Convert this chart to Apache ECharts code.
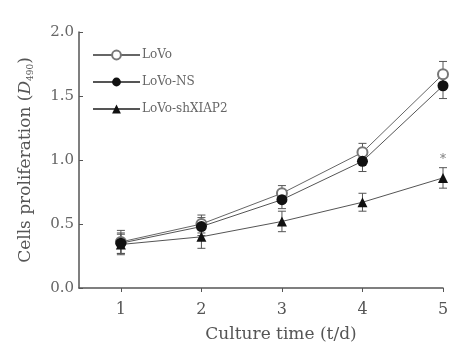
<!DOCTYPE html>
<html><head><meta charset="utf-8">
<script src="https://cdn.jsdelivr.net/npm/echarts@6/dist/echarts.min.js"></script>
<style>html,body{margin:0;padding:0;background:#fff}#c{width:451px;height:344px}</style>
</head><body><div id="c"></div>
<script>
var days = [1, 2, 3, 4, 5];
var yTicks = ['0.0', '0.5', '1.0', '1.5', '2.0'];
var lovo = [0.36, 0.50, 0.74, 1.06, 1.67];
var lovoErr = [0.09, 0.07, 0.06, 0.07, 0.10];
var lovoNS = [0.35, 0.48, 0.69, 0.99, 1.58];
var lovoNSErr = [0.08, 0.07, 0.07, 0.08, 0.10];
var shXIAP2 = [0.34, 0.40, 0.52, 0.67, 0.86];
var shXIAP2Err = [0.08, 0.09, 0.08, 0.07, 0.08];
var sigMarks = [[5, 1.0]];

var F = '"DejaVu Serif", "Liberation Serif", serif';
function pairs(v){ return days.map(function(d,i){ return [d, v[i]]; }); }
function errData(v, e){ return days.map(function(d,i){ return [d, v[i], e[i]]; }); }
function errSeries(v, e){
  return {
    type: 'custom', silent: true, z: 1,
    data: errData(v, e),
    renderItem: function(params, api){
      var x = api.value(0), y = api.value(1), er = api.value(2);
      var top = api.coord([x, y + er]), bot = api.coord([x, y - er]);
      var w = 4;
      var st = {stroke: '#555', lineWidth: 1};
      return {type: 'group', children: [
        {type: 'line', shape: {x1: top[0], y1: top[1], x2: bot[0], y2: bot[1]}, style: st},
        {type: 'line', shape: {x1: top[0]-w, y1: top[1], x2: top[0]+w, y2: top[1]}, style: st},
        {type: 'line', shape: {x1: bot[0]-w, y1: bot[1], x2: bot[0]+w, y2: bot[1]}, style: st}
      ]};
    }
  };
}
var chart = echarts.init(document.getElementById('c'));
chart.setOption({
  animation: false,
  backgroundColor: '#fff',
  grid: {left: 79, right: 8, top: 32, bottom: 56, containLabel: false, outerBoundsMode: 'none'},
  legend: {
    orient: 'vertical', left: 87, top: 44, itemGap: 15,
    itemWidth: 47, itemHeight: 11,
    textStyle: {fontFamily: F, fontSize: 12, color: '#666', padding: [0,0,0,-3]},
    data: ['LoVo', 'LoVo-NS', 'LoVo-shXIAP2']
  },
  xAxis: {
    type: 'value', min: 0.48, max: 5.0,
    name: 'Culture time (t/d)', nameLocation: 'middle', nameGap: 38,
    nameTextStyle: {fontFamily: F, fontSize: 17, color: '#555', padding: [0,0,0,40]},
    axisLine: {lineStyle: {color: '#555', width: 1.5}},
    axisTick: {show: true, customValues: days, length: 4, lineStyle: {color: '#555'}},
    splitLine: {show: false},
    axisLabel: {fontFamily: F, fontSize: 16, color: '#555', margin: 14,
      customValues: days, formatter: function(v){ return String(v); }}
  },
  yAxis: {
    type: 'value', min: 0, max: 2, interval: 0.5,
    name: '{t|Cells proliferation (}{i|D}{s|490}{t|)}', nameLocation: 'middle', nameGap: 44,
    nameTextStyle: {rich: {
      t: {fontFamily: F, fontSize: 17, color: '#555'},
      i: {fontFamily: F, fontSize: 17, color: '#555', fontStyle: 'italic'},
      s: {fontFamily: F, fontSize: 9, color: '#555', verticalAlign: 'bottom', padding: [9,0,0,0]}
    }},
    axisLine: {show: true, lineStyle: {color: '#555', width: 1.5}},
    axisTick: {show: true, inside: true, length: 4, lineStyle: {color: '#555'}},
    splitLine: {show: false},
    axisLabel: {fontFamily: F, fontSize: 15, color: '#666', margin: 5,
      formatter: function(v){ return yTicks[Math.round(v/0.5)]; }}
  },
  series: [
    errSeries(lovo, lovoErr),
    errSeries(lovoNS, lovoNSErr),
    errSeries(shXIAP2, shXIAP2Err),
    {name: 'LoVo', type: 'line', data: pairs(lovo), symbol: 'emptyCircle', symbolSize: 10, z: 3,
      color: '#777', lineStyle: {color: '#666', width: 1}, itemStyle: {color: '#777', borderWidth: 1}},
    {name: 'LoVo-NS', type: 'line', data: pairs(lovoNS), symbol: 'circle', symbolSize: 11, z: 4,
      color: '#111', lineStyle: {color: '#555', width: 1}, itemStyle: {color: '#111'}},
    {name: 'LoVo-shXIAP2', type: 'line', data: pairs(shXIAP2), symbol: 'triangle', symbolSize: 10, z: 4,
      color: '#111', lineStyle: {color: '#555', width: 1}, itemStyle: {color: '#111'}},
    {type: 'scatter', data: sigMarks, symbolSize: 0, silent: true,
      label: {show: true, formatter: '*', fontFamily: F, fontSize: 12, color: '#555', position: 'inside'}}
  ]
});
</script></body></html>
